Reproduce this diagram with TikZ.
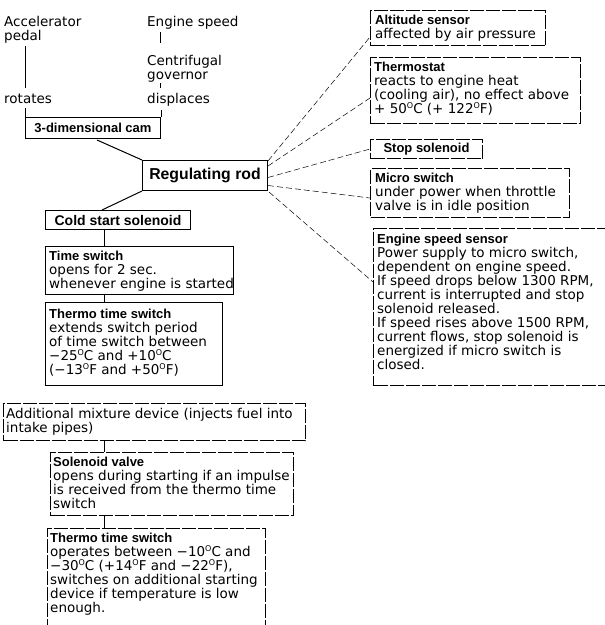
\documentclass[tikz,border=0pt]{standalone}
\usepackage{fontspec}
\setmainfont{DejaVu Sans}[BoldFont={Liberation Sans Bold}]
\usetikzlibrary{calc}
\newcommand{\hd}[1]{{\fontsize{13}{14}\selectfont\bfseries #1}}
\newcommand{\dg}{\raisebox{0.7ex}{\fontsize{8}{8}\selectfont O}}
\begin{document}
\begin{tikzpicture}[x=1pt,y=-1pt,
  every node/.style={font=\fontsize{13.5}{14}\selectfont},
  bx/.style args={#1/#2}{draw, line width=1pt, anchor=north west, inner sep=0pt, minimum width=#1pt, minimum height=#2pt},
  dbx/.style args={#1/#2}{bx=#1/#2, dash pattern=on 14pt off 2pt},
  tx/.style={anchor=north west, inner sep=0pt, align=left},
  ln/.style={line width=1pt},
  dln/.style={line width=1pt, dash pattern=on 14pt off 2pt},
  fan/.style={line width=0.5pt, dash pattern=on 6pt off 3pt},
]
\useasboundingbox (0,0) rectangle (605,625);

% ---- top left: inputs
\node[tx] (acc) at (4,16) {Accelerator\\pedal};
\node[tx,anchor=base west] (rot) at (4,103) {rotates};
\node[tx,anchor=base west] (engs) at (147,26) {Engine speed};
\node[tx] (cen) at (147,55) {Centrifugal\\governor};
\node[tx,anchor=base west] (disp) at (147,103) {displaces};
\coordinate (xa) at (25,0);
\coordinate (xe) at (160,0);
\draw[ln, shorten <=3pt, shorten >=5pt] (acc.south -| xa) -- (rot.north -| xa);
\draw[ln, shorten <=3pt, shorten >=12pt] (engs.south -| xe) -- (cen.north -| xe);
\draw[ln, shorten <=1pt, shorten >=5pt] (cen.south -| xe) -- (disp.north -| xe);

\node[bx=135/21] (cam) at (25,117) {\hd{3-dimensional cam}};
\draw[ln, shorten <=5pt] (rot.south -| cam.north west) -- (cam.north west);
\draw[ln, shorten <=4pt] (disp.south -| cam.north east) -- (cam.north east);

\node[bx=125/30] (rod) at (142,160) {\fontsize{15.8}{16}\selectfont\bfseries Regulating rod};
\draw[ln] ($(cam.south)+(4,1)$) -- (rod.north west);

% ---- left column
\node[bx=145/19] (cold) at (45,210) {{\fontsize{14}{14}\selectfont\bfseries Cold start solenoid}};
\draw[ln] (rod.south west) -- ($(cold.north west)+(57,0)$);

\node[bx=188/48] (time) at (45,246) {};
\node[tx] (timeT) at ($(time.north west)+(4,5)$) {\hd{Time switch}\\opens for 2 sec.\\whenever engine is started};

\node[bx=177/83] (th1) at (45,302) {};
\node[tx] (th1T) at ($(th1.north west)+(4,7)$) {\hd{Thermo time switch}\\extends switch period\\of time switch between\\−25\dg C and +10\dg C\\(−13\dg F and +50\dg F)};

\coordinate (vx) at (104,0);
\draw[ln] (cold.south -| vx) -- (time.north -| vx);
\draw[ln] (time.south -| vx) -- (th1.north -| vx);

% ---- lower part
\node[dbx=302/37] (add) at (3,403) {};
\node[tx] (addT) at ($(add.north west)+(3,5)$) {Additional mixture device (injects fuel into\\intake pipes)};

\node[dbx=243/63] (solv) at (50,452) {};
\node[tx] (solvT) at ($(solv.north west)+(3,5)$) {\hd{Solenoid valve}\\opens during starting if an impulse\\is received from the thermo time\\switch};

\node[draw=none, inner sep=0pt, anchor=north west, minimum width=218pt, minimum height=105pt] (th2) at (47,528) {};
\draw[dln] (th2.south west) -- (th2.north west) -- (th2.north east) -- (th2.south east);
\node[tx] (th2T) at ($(th2.north west)+(3,5)$) {\hd{Thermo time switch}\\operates between −10\dg C and\\−30\dg C (+14\dg F and −22\dg F),\\switches on additional starting\\device if temperature is low\\enough.};

\coordinate (vy) at (104,0);
\draw[ln] (add.south -| vy) -- (solv.north -| vy);
\draw[ln] (solv.south -| vy) -- (th2.north -| vy);

% ---- right column
\node[dbx=175/35] (alt) at (370,10) {};
\node[tx] (altT) at ($(alt.north west)+(5,5)$) {\hd{Altitude sensor}\\affected by air pressure};

\node[dbx=210/66] (therm) at (370,57) {};
\node[tx] (thermT) at ($(therm.north west)+(4,5)$) {\hd{Thermostat}\\reacts to engine heat\\(cooling air), no effect above\\+ 50\dg C (+ 122\dg F)};

\node[dbx=112/19] (stop) at (370,139) {\hd{Stop solenoid}};

\node[dbx=199/49] (micro) at (370,168) {};
\node[tx] (microT) at ($(micro.north west)+(5,5)$) {\hd{Micro switch}\\under power when throttle\\valve is in idle position};

\node[dbx=240/157] (eng) at (373,228) {};
\node[tx] (engT) at ($(eng.north west)+(4,6)$) {\hd{Engine speed sensor}\\Power supply to micro switch,\\dependent on engine speed.\\If speed drops below 1300 RPM,\\current is interrupted and stop\\solenoid released.\\If speed rises above 1500 RPM,\\current flows, stop solenoid is\\energized if micro switch is\\closed.};

% ---- fan of connectors from the regulating rod
\draw[fan] ($(rod.north east)+(0,1)$) -- ($(alt.south west)+(0,-9)$);
\draw[fan] ($(rod.north east)+(0,6)$) -- ($(therm.south west)+(0,-26)$);
\draw[fan] ($(rod.east)+(0,2)$) -- (stop.west);
\draw[fan] ($(rod.east)+(0,10)$) -- ($(micro.south west)+(0,-20)$);
\draw[fan] ($(rod.south east)+(1,1)$) -- ($(eng.north west)+(0,54)$);
\end{tikzpicture}
\end{document}
